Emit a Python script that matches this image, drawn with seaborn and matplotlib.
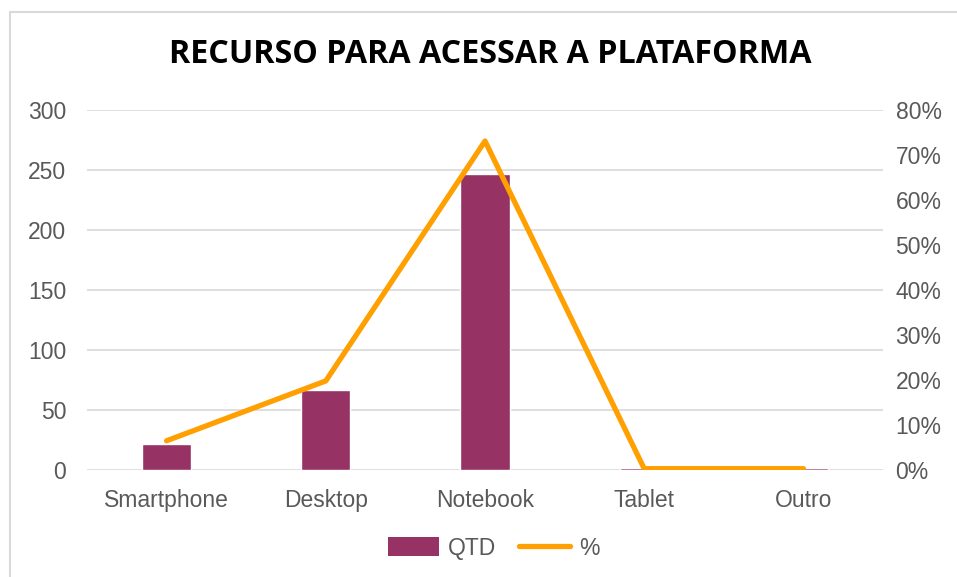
import numpy as np
import matplotlib.pyplot as plt
import seaborn as sns
from matplotlib.lines import Line2D
from matplotlib.patches import Patch
from matplotlib.ticker import PercentFormatter

# dados
categorias = ["Smartphone", "Desktop", "Notebook", "Tablet", "Outro"]
qtd = [22, 67, 247, 2, 2]
pct = [6.5, 19.8, 73.1, 0.3, 0.3]

cor_barra = "#963264"
cor_linha = "#FF9F00"
cor_texto = "#595959"

sns.set_style("white")
plt.rcParams["font.family"] = ["Liberation Sans", "DejaVu Sans"]

fig = plt.figure(figsize=(9.57, 5.77), dpi=100)
ax = fig.add_axes([0.0909, 0.1854, 0.8318, 0.624])

sns.barplot(x=categorias, y=qtd, color=cor_barra, width=0.31, saturation=1, ax=ax)
ax.set_ylim(0, 300)
ax.set_yticks(np.arange(0, 301, 50))
ax.set_xlim(-0.5, len(categorias) - 0.5)
ax.grid(axis="y", color="#d9d9d9", linewidth=1.2)
ax.set_axisbelow(True)
ax.tick_params(axis="y", length=0, pad=15, labelsize=16.5, labelcolor=cor_texto)
ax.tick_params(axis="x", length=0, pad=14, labelsize=16.5, labelcolor=cor_texto)
for s in ax.spines.values():
    s.set_visible(False)

ax2 = ax.twinx()
sns.lineplot(x=categorias, y=pct, color=cor_linha, linewidth=3.8, sort=False, ax=ax2)
ax2.set_ylim(0, 80)
ax2.set_yticks(np.arange(0, 81, 10))
ax2.yaxis.set_major_formatter(PercentFormatter(decimals=0))
ax2.tick_params(axis="y", length=0, pad=9, labelsize=16.5, labelcolor=cor_texto)
ax2.set_xlim(-0.5, len(categorias) - 0.5)
for s in ax2.spines.values():
    s.set_visible(False)

fig.text(0.512, 0.905, "RECURSO PARA ACESSAR A PLATAFORMA", ha="center", va="center",
         fontsize=23.2, fontweight="bold", family=["Open Sans", "DejaVu Sans"], color="black")

handles = [Patch(facecolor=cor_barra, edgecolor="none"),
           Line2D([0], [0], color=cor_linha, linewidth=3.8)]
fig.legend(handles, ["QTD", "%"], loc="center", bbox_to_anchor=(0.516, 0.05), ncol=2,
           frameon=False, fontsize=16.5, labelcolor=cor_texto, handlelength=2.2,
           handleheight=0.9, handletextpad=0.4, columnspacing=1.0)

# moldura cinza do gráfico
fig.add_artist(Line2D([0.0104, 1.0], [0.979, 0.979], color="#d9d9d9", linewidth=1.5,
                      transform=fig.transFigure))
fig.add_artist(Line2D([0.0104, 0.0104], [0.0, 0.979], color="#d9d9d9", linewidth=1.5,
                      transform=fig.transFigure))

fig.savefig("out.png", dpi=100)
